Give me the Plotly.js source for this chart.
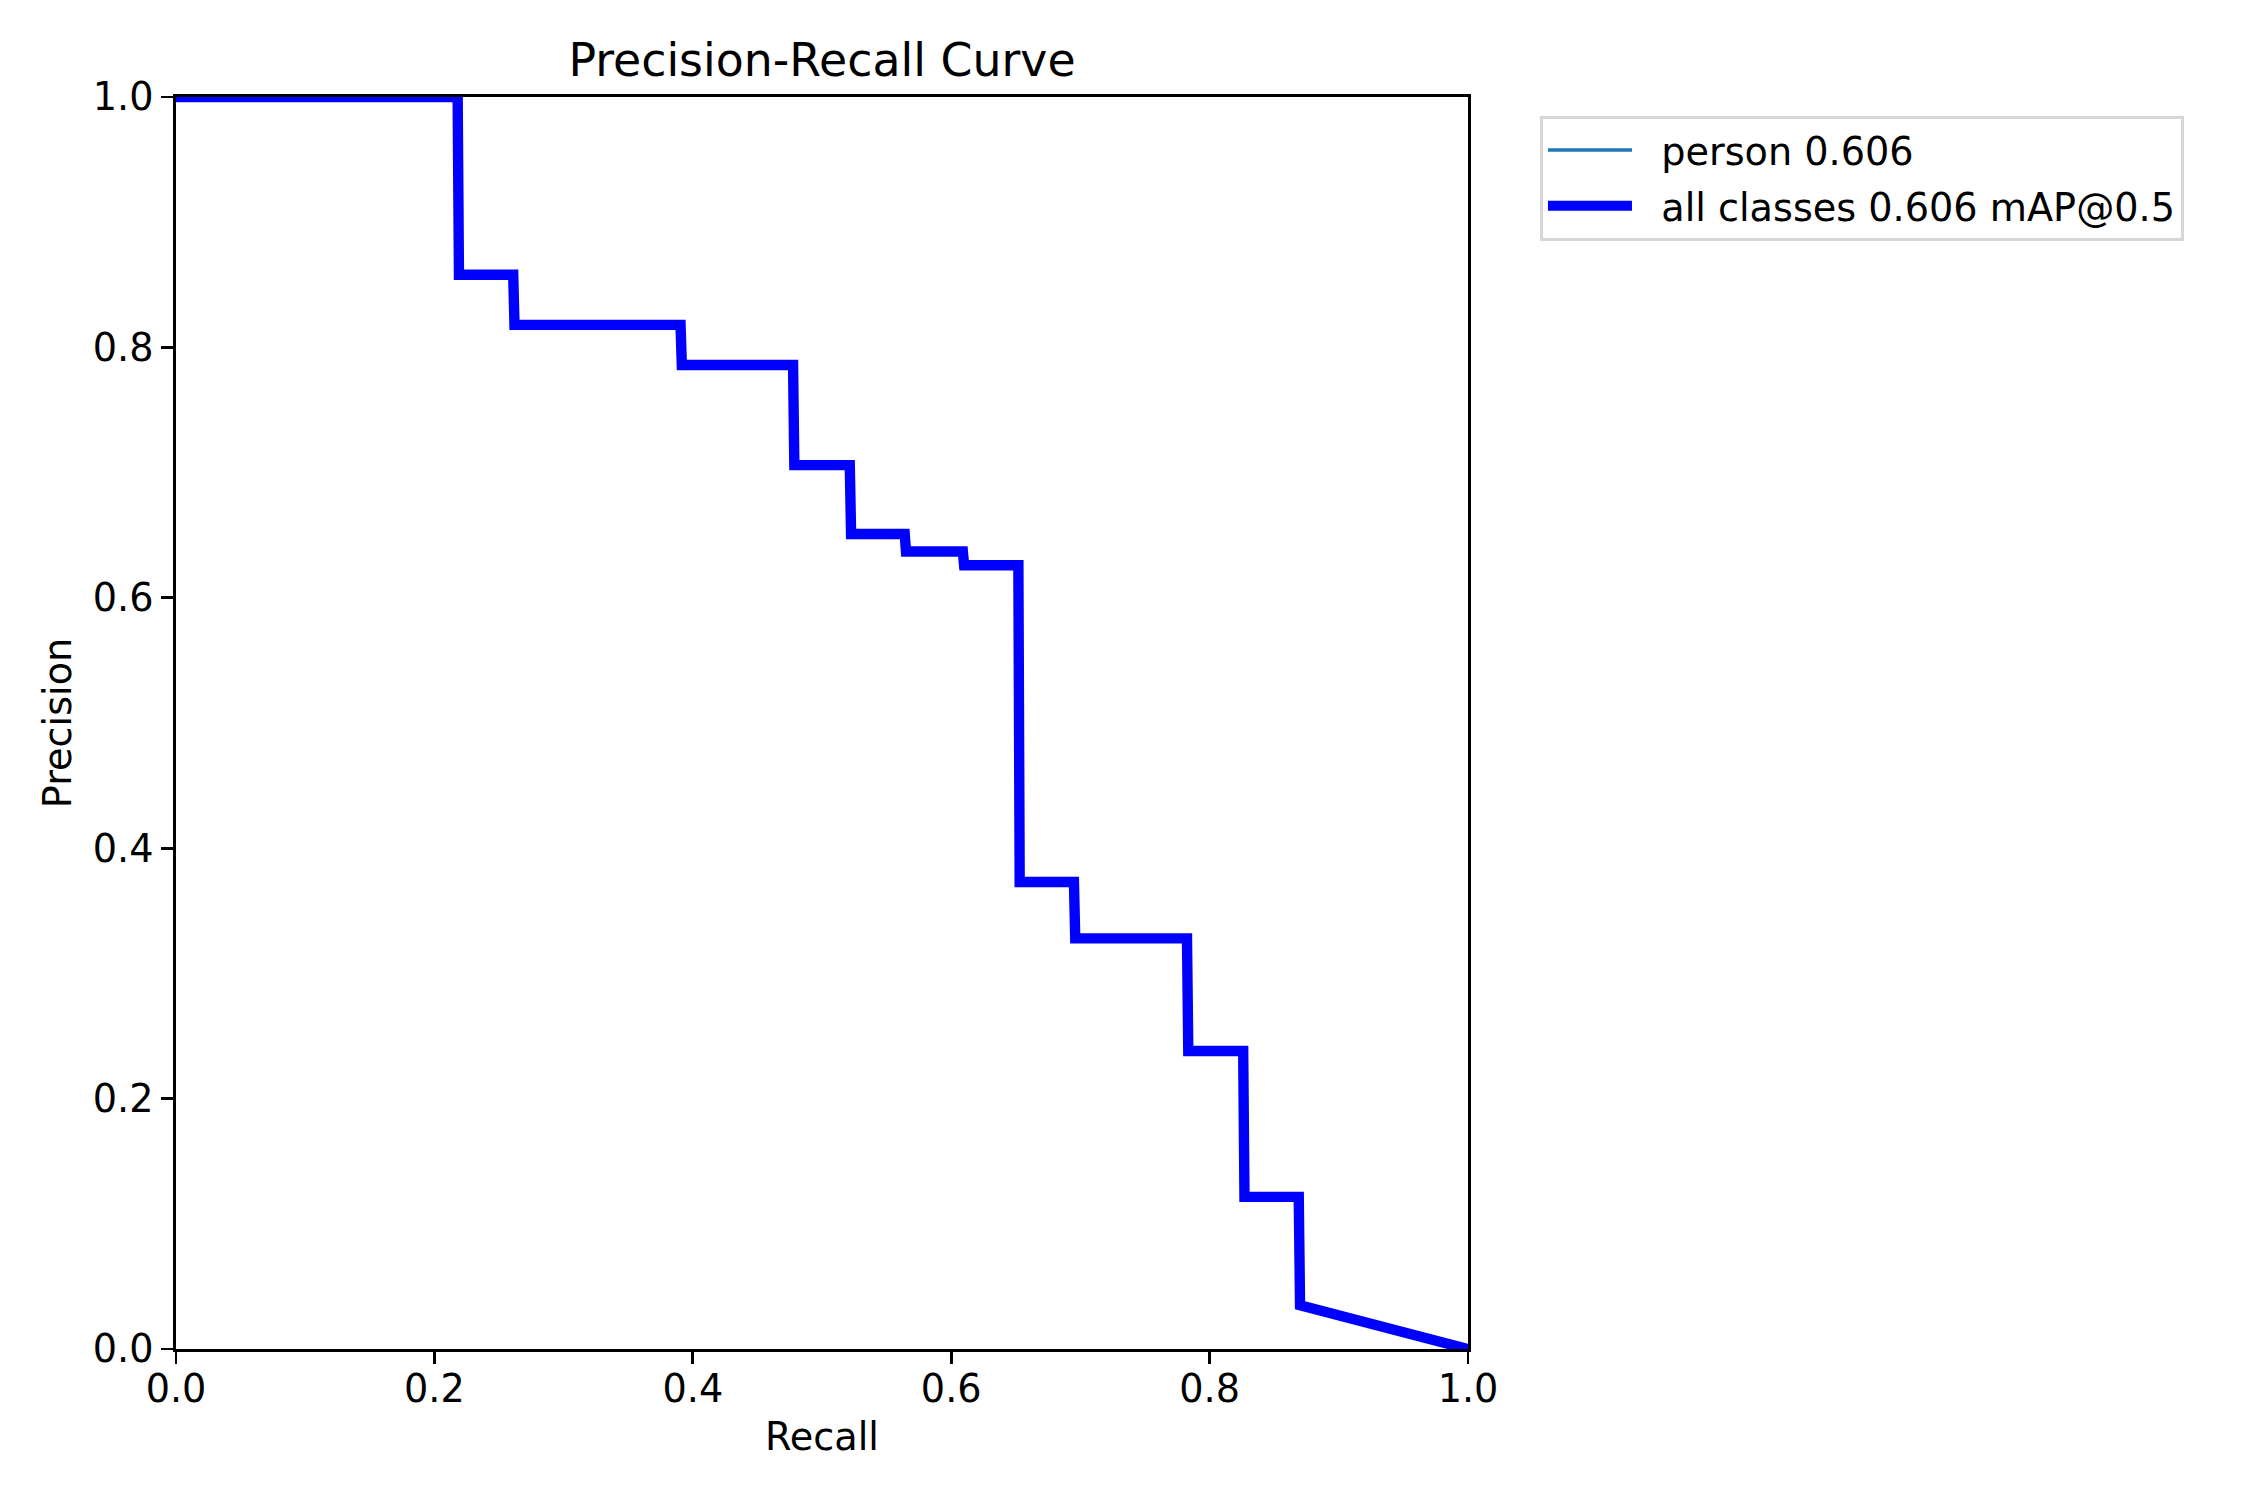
<!DOCTYPE html>
<html>
<head>
<meta charset="utf-8">
<script src="https://cdn.plot.ly/plotly-3.0.1.min.js"></script>
<style>html,body{margin:0;padding:0;background:#fff;}</style>
</head>
<body>
<div id="chart" style="width:2250px;height:1500px;"></div>
<script>
// Step breakpoints of the PR curve (recall where precision drops) and the precision level after each drop
const stepRecall = [0.218, 0.261, 0.3905, 0.4776, 0.5215, 0.564, 0.609, 0.652, 0.695, 0.7825, 0.826, 0.869];
const stepPrecision = [0.858, 0.818, 0.786, 0.706, 0.651, 0.637, 0.626, 0.373, 0.328, 0.238, 0.1215, 0.035];
const startPoint = [0.0, 1.0];
const endPoint = [1.0, 0.0];
const seriesNames = ['person 0.606', 'all classes 0.606 mAP@0.5'];
const tickVals = [0, 0.2, 0.4, 0.6, 0.8, 1.0];
const tickLabels = ['0.0', '0.2', '0.4', '0.6', '0.8', '1.0'];

// build the step curve from the data arrays
const rx = [startPoint[0]], py = [startPoint[1]];
let prev = startPoint[1];
for (let i = 0; i < stepRecall.length; i++) {
  rx.push(stepRecall[i]); py.push(prev);
  rx.push(stepRecall[i] + 0.001); py.push(stepPrecision[i]);
  prev = stepPrecision[i];
}
rx.push(endPoint[0]); py.push(endPoint[1]);

const F = 'DejaVu Sans, sans-serif';
const FS = 38.2;
const pad = '\u00a0\u00a0';

const traces = [
  {x: rx, y: py, type: 'scatter', mode: 'lines', name: pad + seriesNames[0],
   line: {color: '#1f77b4', width: 3.5}, legendgroup: 'a'},
  {x: rx, y: py, type: 'scatter', mode: 'lines', name: pad + seriesNames[1],
   line: {color: '#0000ff', width: 10.4}, legendgroup: 'b'}
];

const axisCommon = {
  range: [0, 1], showgrid: false, zeroline: false,
  showline: true, linecolor: '#000', linewidth: 2.8, mirror: true,
  ticks: 'outside', ticklen: 12, tickwidth: 2.8, tickcolor: '#000',
  tickvals: tickVals, ticktext: tickLabels,
  tickfont: {family: F, size: FS, color: '#000'}
};

const layout = {
  width: 2250, height: 1500,
  paper_bgcolor: '#fff', plot_bgcolor: '#fff',
  margin: {l: 176, r: 782, t: 97, b: 151},
  font: {family: F, size: FS, color: '#000'},
  title: {text: 'Precision-Recall Curve', font: {family: F, size: 45.8, color: '#000'},
          x: 0.5, xref: 'paper', xanchor: 'center', y: 1 - 60/1500, yref: 'container', yanchor: 'middle'},
  xaxis: Object.assign({}, axisCommon, {ticklabelstandoff: -8,
          title: {text: 'Recall', font: {family: F, size: FS, color: '#000'}, standoff: 14}}),
  yaxis: Object.assign({}, axisCommon, {title: {text: 'Precision', font: {family: F, size: FS, color: '#000'}, standoff: 10}}),
  showlegend: true,
  legend: {x: 1.0557, y: 0.985, xanchor: 'left', yanchor: 'top',
           bgcolor: 'rgba(255,255,255,0.8)', bordercolor: '#d6d6d6', borderwidth: 3,
           font: {family: F, size: FS, color: '#000'}, itemwidth: 84, tracegroupgap: 3,
           traceorder: 'grouped'}
};

Plotly.newPlot('chart', traces, layout, {staticPlot: true, displayModeBar: false});
</script>
</body>
</html>
